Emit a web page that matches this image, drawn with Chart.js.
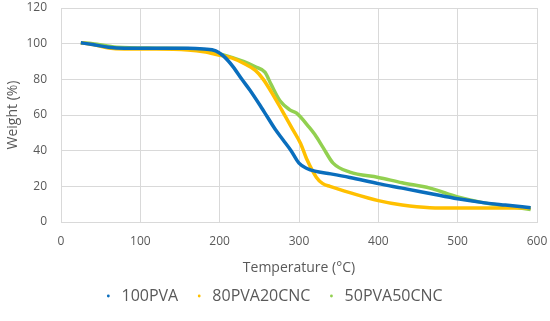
<!DOCTYPE html>
<html>
<head>
<meta charset="utf-8">
<script src="https://cdn.jsdelivr.net/npm/chart.js@4"></script>
<style>
  html, body { margin: 0; padding: 0; background: #fff; }
  #wrap { width: 550px; height: 321px; }
</style>
</head>
<body>
<div id="wrap"><canvas id="myChart" width="550" height="321"></canvas></div>
<script>
// series: temperature (°C) and weight (%)
var pvaTemp = [25, 40, 60, 80, 120, 160, 180, 195, 205, 217, 228, 238, 250, 260, 270, 280, 290, 300, 310, 320, 340, 364, 400, 430, 465, 500, 530, 560, 592];
var pvaWeight = [100.5, 99.5, 98, 97.5, 97.5, 97.5, 97, 96, 93, 87, 80, 74, 66, 59, 52, 46, 40, 33, 30, 28.5, 27, 25, 21.5, 19, 16, 13, 11, 9.5, 8];

var cnc20Temp = [25, 40, 60, 80, 120, 160, 180, 200, 215, 230, 245, 255, 265, 278, 292, 302, 310, 322, 330, 339, 364, 400, 430, 465, 500, 550, 592];
var cnc20Weight = [100.5, 99.5, 97.5, 97, 97, 96.5, 95.5, 93.5, 92, 89, 85, 80, 73, 63, 52, 44, 35, 25, 21.5, 20, 16.5, 12, 9.5, 8, 7.8, 7.8, 7.8];

var cnc50Temp = [25, 40, 70, 120, 170, 190, 210, 230, 245, 257, 265, 276, 288, 297, 313, 320, 330, 343, 364, 400, 430, 465, 500, 530, 560, 592];
var cnc50Weight = [100.5, 100, 98, 97.5, 97, 95.5, 93, 90, 87, 84, 77, 68, 63, 61, 53, 49, 42, 33, 28, 25, 22, 19, 14, 11, 9, 7];

var seriesNames = ['100PVA', '80PVA20CNC', '50PVA50CNC'];
var seriesColors = ['#0A6EBD', '#FFC000', '#92D050'];

function toPoints(xs, ys) {
    return xs.map(function (x, i) { return { x: x, y: ys[i] }; });
}

var textColor = '#595959';
var gridColor = '#d9d9d9';
var font = 'Open Sans, sans-serif';

document.addEventListener('DOMContentLoaded', function () {
    var ctx = document.getElementById('myChart').getContext('2d');
    var allTemps = [pvaTemp, cnc20Temp, cnc50Temp];
    var allWeights = [pvaWeight, cnc20Weight, cnc50Weight];

    var myChart = new Chart(ctx, {
        type: 'scatter',
        data: {
            datasets: seriesNames.map(function (name, i) {
                return {
                    label: name,
                    data: toPoints(allTemps[i], allWeights[i]),
                    showLine: true,
                    borderColor: seriesColors[i],
                    backgroundColor: seriesColors[i],
                    borderWidth: 3.5,
                    pointRadius: 0,
                    cubicInterpolationMode: 'monotone'
                };
            })
        },
        options: {
            responsive: false,
            animation: false,
            layout: { padding: { top: 0, right: 0, left: 0, bottom: 7 } },
            plugins: {
                tooltip: { enabled: false },
                legend: {
                    position: 'bottom',
                    labels: {
                        usePointStyle: true,
                        pointStyle: 'circle',
                        boxWidth: 2,
                        boxHeight: 2,
                        padding: 20,
                        color: textColor,
                        font: { family: font, size: 16 },
                        generateLabels: function (chart) {
                            var items = Chart.defaults.plugins.legend.labels.generateLabels(chart);
                            items.forEach(function (it) {
                                it.lineWidth = 0;
                                it.strokeStyle = 'transparent';
                                it.text = ' ' + it.text;
                            });
                            return items;
                        }
                    }
                }
            },
            scales: {
                x: {
                    type: 'linear',
                    min: 0,
                    max: 600,
                    afterFit: function (scale) {
                        scale.height = 46;
                        scale.paddingRight = 13;
                        scale.paddingLeft = 0;
                    },
                    ticks: { stepSize: 100, color: textColor, padding: 12, font: { family: font, size: 12 } },
                    grid: { color: gridColor, lineWidth: 1, drawTicks: false },
                    border: { color: gridColor },
                    title: { display: true, text: 'Temperature (°C)', color: textColor, padding: { top: 0, bottom: -8 }, font: { family: font, size: 14 } }
                },
                y: {
                    min: 0,
                    max: 120,
                    afterFit: function (scale) {
                        scale.width = 61;
                        scale.paddingTop = 8;
                        scale.paddingBottom = 0;
                    },
                    ticks: { stepSize: 20, color: textColor, padding: 14, font: { family: font, size: 12 } },
                    grid: { color: gridColor, lineWidth: 1, drawTicks: false },
                    border: { color: gridColor },
                    title: { display: true, text: 'Weight (%)', color: textColor, padding: { top: 5, bottom: 0 }, font: { family: font, size: 14 } }
                }
            }
        }
    });
});
</script>
</body>
</html>
